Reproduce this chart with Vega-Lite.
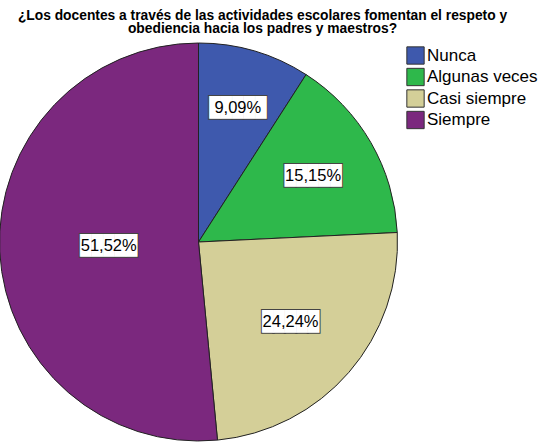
{
  "$schema": "https://vega.github.io/schema/vega-lite/v6.json",
  "width": 397,
  "height": 398,
  "autosize": {"type": "none"},
  "padding": {"left": 0, "top": 43, "right": 142, "bottom": 1},
  "background": "white",
  "title": {
    "text": ["¿Los docentes a través de las actividades escolares fomentan el respeto y", "obediencia hacia los padres y maestros?"],
    "font": "Liberation Sans",
    "fontSize": 13.8,
    "fontWeight": "bold",
    "color": "#000000",
    "anchor": "middle",
    "dx": 64,
    "offset": 5,
    "lineHeight": 13,
    "limit": 0
  },
  "data": {
    "values": [
      {"respuesta": "Nunca", "orden": 1, "pct": 0.0909},
      {"respuesta": "Algunas veces", "orden": 2, "pct": 0.1515},
      {"respuesta": "Casi siempre", "orden": 3, "pct": 0.2424},
      {"respuesta": "Siempre", "orden": 4, "pct": 0.5152}
    ]
  },
  "encoding": {
    "theta": {"field": "pct", "type": "quantitative", "stack": true},
    "order": {"field": "orden", "type": "quantitative"}
  },
  "layer": [
    {
      "mark": {"type": "arc", "radius": 199, "stroke": "#222222", "strokeWidth": 1},
      "encoding": {
        "color": {
          "field": "respuesta",
          "type": "nominal",
          "scale": {
            "domain": ["Nunca", "Algunas veces", "Casi siempre", "Siempre"],
            "range": ["#3E59AD", "#2EB84B", "#D4CF98", "#7B287E"]
          },
          "legend": {
            "orient": "none",
            "legendX": 406,
            "legendY": 3,
            "title": null,
            "symbolType": "square",
            "symbolSize": 300,
            "symbolStrokeColor": "#333333",
            "symbolStrokeWidth": 1,
            "symbolOpacity": 1,
            "labelFont": "Liberation Sans",
            "labelFontSize": 17,
            "labelColor": "#000000",
            "labelOffset": 2,
            "rowPadding": -1.5,
            "labelLimit": 200
          }
        }
      }
    },
    {
      "mark": {"type": "text", "text": "█████", "font": "DejaVu Sans Mono", "fontSize": 19, "fill": "#444444", "stroke": "#444444", "strokeWidth": 2, "baseline": "middle", "align": "center"},
      "encoding": {
        "radius": {"field": "pct", "type": "quantitative", "scale": {"type": "linear", "domain": [0, 0.6], "range": [150, 80]}}
      }
    },
    {
      "mark": {"type": "text", "text": "█████", "font": "DejaVu Sans Mono", "fontSize": 19, "fill": "#FFFFFF", "baseline": "middle", "align": "center"},
      "encoding": {
        "radius": {"field": "pct", "type": "quantitative", "scale": {"type": "linear", "domain": [0, 0.6], "range": [150, 80]}}
      }
    },
    {
      "mark": {"type": "text", "font": "Liberation Sans", "fontSize": 16.5, "fill": "#000000", "baseline": "middle", "align": "center"},
      "encoding": {
        "radius": {"field": "pct", "type": "quantitative", "scale": {"type": "linear", "domain": [0, 0.6], "range": [150, 80]}},
        "text": {"field": "pct", "type": "quantitative", "format": ".2%"}
      }
    }
  ],
  "config": {
    "view": {"stroke": null},
    "locale": {"number": {"decimal": ",", "thousands": ".", "grouping": [3], "currency": ["", " €"]}}
  }
}
